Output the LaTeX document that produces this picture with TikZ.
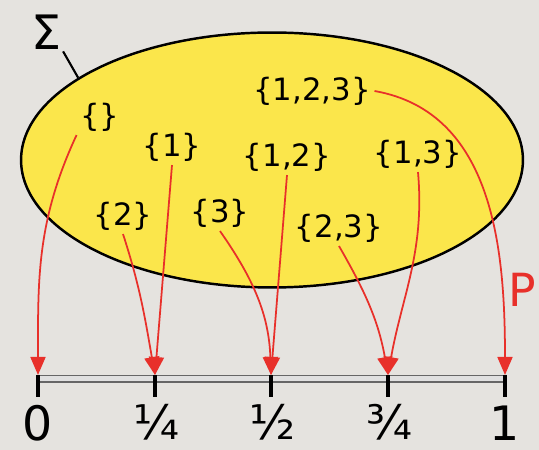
\documentclass[tikz,border=0pt]{standalone}
\usepackage{fontspec}
\setmainfont{DejaVu Sans}
\usetikzlibrary{arrows.meta,shapes.geometric}
\definecolor{sigyellow}{HTML}{FBE64B}
\definecolor{maparrow}{HTML}{E8302A}
\definecolor{bggray}{HTML}{E5E3DF}
\begin{document}
\begin{tikzpicture}[x=0.02cm,y=0.02cm,
    subset/.style={font=\fontsize{17.5}{20}\selectfont,inner sep=2pt},
    tickmark/.style={draw,line width=1.8pt},
    ticklabel/.style={font=\fontsize{27}{30}\selectfont,inner sep=0pt},
    axisline/.style={draw=black!60,line width=0.7pt,double=white!88!black,double distance=0.1cm},
    arr/.style={-{Triangle[length=0.36cm,width=0.3cm]},maparrow,line width=1pt}
]
\fill[bggray] (0,0) rectangle (539,450);
\useasboundingbox (0,0) rectangle (539,450);

\node[ellipse,draw,line width=1.4pt,fill=sigyellow,minimum width=10.04cm,minimum height=5.1cm,inner sep=0pt] (sset) at (272,290) {};
\node[font=\fontsize{27}{30}\selectfont,inner sep=1pt] (sigma) at (46,418) {Σ};
\draw[line width=1.2pt] (sigma.south east) -- (sset.157);

\node[subset] (empty) at (100,333) {\{\}};
\node[subset] (one) at (172,303) {\{1\}};
\node[subset] (two) at (123,234) {\{2\}};
\node[subset] (three) at (220,237) {\{3\}};
\node[subset] (onetwo) at (287,293) {\{1,2\}};
\node[subset] (onethree) at (418,296) {\{1,3\}};
\node[subset] (twothree) at (339,222) {\{2,3\}};
\node[subset] (all) at (312,359) {\{1,2,3\}};

\coordinate (t0) at (38,75);
\coordinate (t1) at (155,75);
\coordinate (t2) at (271,75);
\coordinate (t3) at (388,75);
\coordinate (t4) at (505,75);
\draw[axisline] (38,71) -- (505,71);
\foreach \t in {t0,t1,t2,t3,t4}
  \draw[tickmark] (\t) -- ++(0,-22);

\node[ticklabel] (l0) at (38,27) {0};
\node[ticklabel] (l1) at (156,28) {¼};
\node[ticklabel] (l2) at (272,28) {½};
\node[ticklabel] (l3) at (389,28) {¾};
\node[ticklabel] (l4) at (505,27) {1};
\node[font=\fontsize{26}{28}\selectfont,text=maparrow,anchor=east,inner sep=0pt] (pmap) at (536,160) {P};

\draw[arr] (empty.south west) to[out=-115,in=90] (t0);
\draw[arr] (one.south) -- (t1);
\draw[arr] (two.south) to[out=-72,in=100] (t1);
\draw[arr] (three.south) to[out=-55,in=92] (t2);
\draw[arr] (onetwo.south) -- (t2);
\draw[arr] (onethree.south) to[out=-85,in=80] (t3);
\draw[arr] (twothree.south) to[out=-60,in=100] (t3);
\draw[arr] (all.east) to[out=-10,in=90] (t4);
\end{tikzpicture}
\end{document}
